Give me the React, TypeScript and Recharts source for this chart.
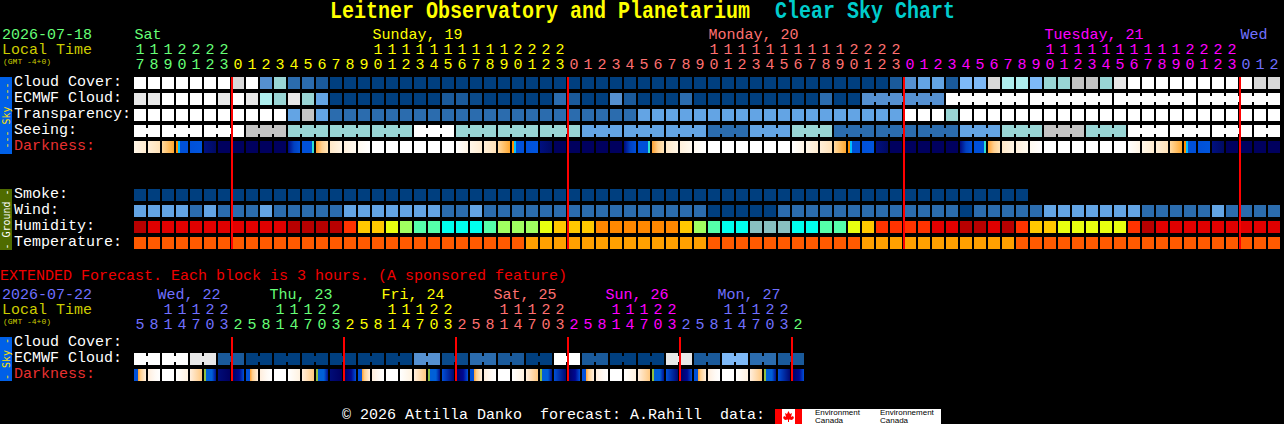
import React from "react";
import { ScatterChart, Scatter, XAxis, YAxis } from "recharts";

// ---------- values ----------
const hourUnits = [7,8,9,0,1,2,3, 0,1,2,3,4,5,6,7,8,9,0,1,2,3,4,5,6,7,8,9,0,1,2,3, 0,1,2,3,4,5,6,7,8,9,0,1,2,3,4,5,6,7,8,9,0,1,2,3, 0,1,2,3,4,5,6,7,8,9,0,1,2,3,4,5,6,7,8,9,0,1,2,3, 0,1,2];
const hourTens = ["1","1","1","2","2","2","2", "","","","","","","","","","","1","1","1","1","1","1","1","1","1","1","2","2","2","2", "","","","","","","","","","","1","1","1","1","1","1","1","1","1","1","2","2","2","2", "","","","","","","","","","","1","1","1","1","1","1","1","1","1","1","2","2","2","2", "","",""];
const hourDay = [0,0,0,0,0,0,0, 1,1,1,1,1,1,1,1,1,1,1,1,1,1,1,1,1,1,1,1,1,1,1,1, 2,2,2,2,2,2,2,2,2,2,2,2,2,2,2,2,2,2,2,2,2,2,2,2, 3,3,3,3,3,3,3,3,3,3,3,3,3,3,3,3,3,3,3,3,3,3,3,3, 4,4,4];
const dayNames = ["Sat","Sunday, 19","Monday, 20","Tuesday, 21","Wed"];
const dayCols = [0,17,41,65,79];
const dayColors = ["#66ff77","#ffff00","#ff7070","#ff00ff","#7070ff"];

const extUnits = [5,8,1,4,7,0,3, 2,5,8,1,4,7,0,3, 2,5,8,1,4,7,0,3, 2,5,8,1,4,7,0,3, 2,5,8,1,4,7,0,3, 2,5,8,1,4,7,0,3, 2];
const extTens = ["","","1","1","1","2","2", "","","","1","1","1","2","2", "","","","1","1","1","2","2", "","","","1","1","1","2","2", "","","","1","1","1","2","2", "","","","1","1","1","2","2", ""];
const extDay = [0,0,0,0,0,0,0, 1,1,1,1,1,1,1,1, 2,2,2,2,2,2,2,2, 3,3,3,3,3,3,3,3, 4,4,4,4,4,4,4,4, 5,5,5,5,5,5,5,5, 6];
const extDayNames = ["Wed, 22","Thu, 23","Fri, 24","Sat, 25","Sun, 26","Mon, 27"];
const extDayCols = [1.64,9.64,17.64,25.64,33.64,41.64];
const extDayColors = ["#7070ff","#66ff77","#ffff00","#ff7070","#ff00ff","#7070ff","#66ff77"];

const cloudCover = [12,12,12,12,12,12,12,10,12,4, 7,3,3,2,0,0,0,0,0,0, 0,0,0,0,0,0,0,0,0,0, 0,0,0,0,0,0,0,0,0,0, 0,0,0,0,0,0,0,0,0,0, 0,0,0,0,2,4,5,5,2,6, 6,10,8,8,6,7,7,9,9,7, 11,12,12,12,12,12,12,12,12,12, 10,10];
const ecmwfHourly = [11,11,12,12,12,12,11,12,11,8, 7,11,7,5,0,0,0,0,0,0, 0,0,2,2,1,0,0,0,0,0, 3,2,0,0,4,2,0,0,0,3, 0,0,0,0,0,0,0,0,0,3, 0,0];
const ecmwfSixHourly = [4,12,12,12,12];
const transparency = [12,12,12,12,12,12,12,12,12,12, 12,5,9,5,3,3,3,3,3,3, 3,3,3,3,3,3,3,3,3,3, 3,3,3,3,3,3,5,5,5,5, 5,5,5,5,5,5,5,5,5,5, 5,5,5,5,5,12,12,12,7,12, 12,12,12,12,12,12,12,12,12,12, 12,12,12,12,12,12,12,12,12,12, 12,12];
const seeingBlocks = [12,12,12,9,7,7,7,12,7,7,7,5,5,5,3,5,7,3,3,3,5,7,9,7,12,12,12,12];
const seeingSpans = [2,3,3,3,3,3,3,3,3,3,3,3,3,3,3,3,3,3,3,3,3,3,3,3,3,3,3,2];
const darkness = [0,1,2,3,4,5,6,6,6,6, 6,7,8,9,10,11,12,13,13,13, 13,13,13,14,0,1,2,3,4,5, 6,6,6,6,6,7,8,9,10,11, 12,13,13,13,13,13,13,14,0,1, 2,3,4,5,6,6,6,6,6,7, 8,9,10,11,12,13,13,13,13,13, 13,14,0,1,2,3,4,5,6,6, 6,6];
const smoke = [0,0,0,0,0,0,0,0,0,0, 0,0,0,0,0,0,0,0,0,0, 0,0,0,0,0,0,0,0,0,0, 0,0,0,0,0,0,0,0,0,0, 0,0,0,0,0,0,0,0,0,0, 0,0,0,0,0,0,0,0,0,0, 0,0,0,0];
const wind = [5,5,5,5,3,5,3,3,3,5, 3,3,3,3,3,5,5,5,5,5, 5,5,3,3,5,3,3,3,3,3, 3,3,3,3,3,3,3,3,3,3, 3,0,0,0,0,0,3,3,3,3, 3,3,3,3,3,3,3,3,3,0, 3,3,3,3,3,5,5,5,5,5, 5,5,3,3,3,3,3,5,3,3, 3,3];
const humidity = [0,1,1,1,1,1,1,1,1,1, 1,0,0,0,0,2,4,4,5,6, 7,7,8,8,8,7,6,6,6,5, 4,4,4,3,3,3,3,3,3,4, 6,7,8,8,9,9,9,8,8,7, 7,5,4,2,2,2,2,1,1,0, 0,1,0,2,4,4,5,5,5,5, 5,2,0,1,1,1,1,1,1,1, 1,1];
const temperature = [0,0,0,0,0,0,0,0,0,0, 0,0,0,0,0,0,0,0,0,0, 0,0,0,0,0,0,0,0,1,1, 1,1,1,1,1,1,1,1,1,1, 1,0,0,0,0,0,0,0,0,0, 0,0,1,1,1,1,1,1,1,1, 1,1,1,0,0,0,0,0,0,0, 0,0,0,0,0,0,0,0,0,0, 0,0];
const extEcmwf = [12,12,11,2,0,0,0,0,0,0,4,1,3,2,0,12,2,0,0,11,2,6,3,2];
const extDarkness = [0,1,2,3,4,5,6,7, 0,1,2,3,4,5,6,7, 0,1,2,3,4,5,8,7, 0,1,2,3,4,5,8,7, 0,1,2,3,4,5,8,7, 0,1,2,3,4,5,8,7];
const midnights = [7,31,55,79];
const extMidnights = [7,15,23,31,39,47];
const skyLabels = ["Cloud Cover:","ECMWF Cloud:","Transparency:","Seeing:"];
const groundLabels = ["Smoke:","Wind:","Humidity:","Temperature:"];

// ---------- styles ----------
const skyPalette = ["#003f7f","#0a4a8a","#1a5a9b","#2b6cae","#5590d0","#63a4e4","#7eb9f7","#99d5d5","#aeeeee","#c4c4c4","#d8d8d8","#e8e8e8","#ffffff"];
const humidityPalette = ["#b80000","#e00000","#ff3300","#ff8800","#ffc800","#e8ff10","#a0ff60","#55ffaa","#00ffee","#88c0c0"];
const tempPalette = ["#ff5a00","#ffa000"];
type Stop = [number, string];
const darkStops: Stop[][] = [
  [[0,"#fff6e8"],[1,"#ffecd0"]],
  [[0,"#ffefd8"],[1,"#ffe2b8"]],
  [[0,"#ffd9a0"],[1,"#ffa830"]],
  [[0,"#ff9000"],[.17,"#ff9000"],[.17,"#00bfff"],[.33,"#00bfff"],[.33,"#0050d8"],[1,"#0050d8"]],
  [[0,"#0050d8"],[1,"#0055dd"]],
  [[0,"#001080"],[1,"#000a62"]],
  [[0,"#00005e"],[1,"#00005e"]],
  [[0,"#000a80"],[.5,"#0040c0"],[1,"#0050d8"]],
  [[0,"#0050d8"],[.86,"#0050d8"],[.86,"#30e0d0"],[1,"#30e0d0"]],
  [[0,"#ffa030"],[.5,"#ffd090"],[1,"#ffe4b8"]],
  [[0,"#ffe8c8"],[1,"#fff5e5"]],
  [[0,"#fff0dc"],[1,"#fffaf0"]],
  [[0,"#fffaf0"],[1,"#ffffff"]],
  [[0,"#ffffff"],[1,"#ffffff"]],
  [[0,"#ffffff"],[1,"#fff5e5"]],
];
const extStops: Stop[][] = [
  [[0,"#0050d8"],[.3,"#0050d8"],[.33,"#ffa030"],[.55,"#ffd090"],[1,"#fff0e0"]],
  [[0,"#ffeedd"],[.6,"#fffaf5"],[1,"#ffffff"]],
  [[0,"#ffffff"],[1,"#ffffff"]],
  [[0,"#ffffff"],[1,"#fff2e0"]],
  [[0,"#ffeedd"],[1,"#ffc880"]],
  [[0,"#90c040"],[.16,"#90c040"],[.16,"#0060d8"],[.66,"#0060d8"],[1,"#001090"]],
  [[0,"#000c78"],[1,"#000060"]],
  [[0,"#000060"],[.6,"#000890"],[1,"#0050d8"]],
  [[0,"#0050d8"],[1,"#000870"]],
];

// ---------- layout: axis units are columns and rows ----------
const W = 1284, H = 424, PITCH = 14, CELL = 12;
const xDomain: [number, number] = [-140 / PITCH, (W - 140) / PITCH];
const rowOf = (px: number) => (px - 83) / 16;
const yDomain: [number, number] = [rowOf(0), rowOf(H)];
const MONO = "'Liberation Mono','DejaVu Sans Mono',monospace";

type Pt = { col: number; row: number; fill: string; span?: number; text?: string };
const hourly = (vals: number[], row: number, pal: string[], start = 0): Pt[] =>
  vals.map((v, i) => ({ col: start + i, row, fill: pal[v] }));
const blocks = (vals: number[], spans: number[] | number, row: number, pal: string[], start = 0): Pt[] => {
  let c = start;
  return vals.map((v, i) => {
    const s = typeof spans === "number" ? spans : spans[i];
    const p = { col: c, row, fill: pal[v], span: s };
    c += s;
    return p;
  });
};
const grads = (vals: number[], row: number, prefix: string): Pt[] =>
  vals.map((v, i) => ({ col: i, row, fill: `url(#${prefix}${v})` }));

const CellShape = (p: any) => {
  const d: Pt = p.payload;
  const cx = p.cx ?? p.x + p.width / 2;
  const cy = p.cy ?? p.y + p.height / 2;
  const span = d.span ?? 1;
  const left = cx - CELL / 2;
  const top = cy - CELL / 2;
  const parts = [];
  for (let i = 0; i < span; i++) {
    parts.push(<rect key={i} x={left + i * PITCH} y={top} width={CELL} height={CELL} fill={d.fill} />);
    if (i < span - 1)
      parts.push(<rect key={`c${i}`} x={left + i * PITCH + CELL} y={top + 3} width={PITCH - CELL} height={CELL - 6} fill={d.fill} />);
  }
  return <g>{parts}</g>;
};
const TextShape = (p: any) => {
  const d: Pt = p.payload;
  const cx = p.cx ?? p.x + p.width / 2;
  const cy = p.cy ?? p.y + p.height / 2;
  return (
    <text x={cx} y={cy} fill={d.fill} textAnchor="middle" fontFamily={MONO} fontSize={15}>
      {d.text}
    </text>
  );
};
const StartTextShape = (p: any) => {
  const d: Pt = p.payload;
  const cx = p.cx ?? p.x + p.width / 2;
  const cy = p.cy ?? p.y + p.height / 2;
  return (
    <text x={cx - CELL / 2 + 0.5} y={cy} fill={d.fill} fontFamily={MONO} fontSize={15}>
      {d.text}
    </text>
  );
};
const NoPoint = () => <g />;

const cellSeries: Pt[][] = [
  hourly(cloudCover, 0, skyPalette),
  hourly(ecmwfHourly, 1, skyPalette),
  blocks(ecmwfSixHourly, 6, 1, skyPalette, 52),
  hourly(transparency, 2, skyPalette),
  blocks(seeingBlocks, seeingSpans, 3, skyPalette),
  grads(darkness, 4, "dk"),
  hourly(smoke, 7, skyPalette),
  hourly(wind, 8, skyPalette),
  hourly(humidity, 9, humidityPalette),
  hourly(temperature, 10, tempPalette),
  blocks(extEcmwf, 2, rowOf(359), skyPalette),
  grads(extDarkness, rowOf(375), "ex"),
];

const textSeries: Pt[][] = [
  hourUnits.map((u, i) => ({ col: i, row: rowOf(69), fill: dayColors[hourDay[i]], text: String(u) })),
  hourTens.map((t, i) => ({ col: i, row: rowOf(54), fill: dayColors[hourDay[i]], text: t })),
  extUnits.map((u, i) => ({ col: i, row: rowOf(329), fill: extDayColors[extDay[i]], text: String(u) })),
  extTens.map((t, i) => ({ col: i, row: rowOf(314), fill: extDayColors[extDay[i]], text: t })),
];
const dayTitleSeries: Pt[][] = [
  dayNames.map((t, i) => ({ col: dayCols[i], row: rowOf(39), fill: dayColors[i], text: t })),
  extDayNames.map((t, i) => ({ col: extDayCols[i], row: rowOf(299), fill: extDayColors[i], text: t })),
];

const lineSeries: Pt[][] = [
  ...midnights.map((c) => [
    { col: c - CELL / 2 / PITCH, row: rowOf(77), fill: "" },
    { col: c - CELL / 2 / PITCH, row: rowOf(249), fill: "" },
  ]),
  ...extMidnights.map((c) => [
    { col: c - CELL / 2 / PITCH, row: rowOf(337), fill: "" },
    { col: c - CELL / 2 / PITCH, row: rowOf(381), fill: "" },
  ]),
];

const T = (props: any) => <text fontFamily={MONO} fontSize={15} style={{ whiteSpace: "pre" }} {...props} />;
const sideBar = (y: number, h: number, fill: string, color: string, text: string) => (
  <g>
    <rect x={0} y={y} width={12} height={h} fill={fill} />
    <text
      transform={`translate(9.5 ${y + h / 2}) rotate(-90)`}
      fill={color}
      textAnchor="middle"
      fontFamily="'DejaVu Sans Mono',monospace"
      fontSize={10}
    >
      {text}
    </text>
  </g>
);

export default function App() {
  return (
    <div style={{ position: "absolute", left: 0, top: 0, width: W, height: H, background: "#000", overflow: "hidden" }}>
      <ScatterChart width={W} height={H} margin={{ top: 0, right: 0, bottom: 0, left: 0 }} style={{ background: "#000" }}>
        <defs>
          {darkStops.map((st, i) => (
            <linearGradient key={i} id={`dk${i}`} x1="0" y1="0" x2="1" y2="0">
              {st.map(([o, c], j) => <stop key={j} offset={o} stopColor={c} />)}
            </linearGradient>
          ))}
          {extStops.map((st, i) => (
            <linearGradient key={i} id={`ex${i}`} x1="0" y1="0" x2="1" y2="0">
              {st.map(([o, c], j) => <stop key={j} offset={o} stopColor={c} />)}
            </linearGradient>
          ))}
        </defs>
        <XAxis type="number" dataKey="col" domain={xDomain} hide allowDataOverflow />
        <YAxis type="number" dataKey="row" domain={yDomain} reversed hide allowDataOverflow />

        {cellSeries.map((data, i) => (
          <Scatter key={`c${i}`} data={data} shape={CellShape} isAnimationActive={false} />
        ))}
        {textSeries.map((data, i) => (
          <Scatter key={`t${i}`} data={data} shape={TextShape} isAnimationActive={false} />
        ))}
        {dayTitleSeries.map((data, i) => (
          <Scatter key={`d${i}`} data={data} shape={StartTextShape} isAnimationActive={false} />
        ))}
        {lineSeries.map((data, i) => (
          <Scatter
            key={`l${i}`}
            data={data}
            shape={NoPoint}
            line={{ stroke: "#ff0000", strokeWidth: 2 }}
            isAnimationActive={false}
          />
        ))}

        <text transform="translate(330 18) scale(1 1.15)" fontFamily={MONO} fontSize={20} fontWeight="bold" fill="#ffff00">
          Leitner Observatory and Planetarium
        </text>
        <text transform="translate(775 18) scale(1 1.15)" fontFamily={MONO} fontSize={20} fontWeight="bold" fill="#00cccc">
          Clear Sky Chart
        </text>

        <T x={2} y={39} fill="#66ff77">2026-07-18</T>
        <T x={2} y={54} fill="#cccc00">Local Time</T>
        <text x={3} y={64} fill="#cccc00" fontFamily={MONO} fontSize={8}>(GMT -4+0)</text>

        {skyLabels.map((t, i) => <T key={t} x={14} y={86 + 16 * i} fill="#ffffff">{t}</T>)}
        <T x={14} y={150} fill="#e83030">Darkness:</T>
        {groundLabels.map((t, i) => <T key={t} x={14} y={198 + 16 * i} fill="#ffffff">{t}</T>)}

        {sideBar(77, 77, "#0060e8", "#ffe000", "--- Sky ---")}
        {sideBar(189, 61, "#4f6b00", "#ffffff", "- Ground -")}
        {sideBar(337, 44, "#0060e8", "#ffe000", "- Sky -")}

        <T x={0} y={280} fill="#f00000">EXTENDED Forecast. Each block is 3 hours. (A sponsored feature)</T>
        <T x={2} y={299} fill="#7070ff">2026-07-22</T>
        <T x={2} y={314} fill="#cccc00">Local Time</T>
        <text x={3} y={324} fill="#cccc00" fontFamily={MONO} fontSize={8}>(GMT -4+0)</text>
        <T x={14} y={346} fill="#ffffff">Cloud Cover:</T>
        <T x={14} y={362} fill="#ffffff">ECMWF Cloud:</T>
        <T x={14} y={378} fill="#e83030">Darkness:</T>

        <T x={342} y={419} fill="#ffffff">© 2026 Attilla Danko  forecast: A.Rahill  data:</T>
        <rect x={775} y={409} width={166} height={15} fill="#ffffff" />
        <rect x={775} y={409} width={7} height={15} fill="#ff0000" />
        <rect x={795} y={409} width={7} height={15} fill="#ff0000" />
        <polygon
          points="788.5,411 790,414 792,413 791,417 793,416 794,418 792,420 789,419.5 789,422 788,422 788,419.5 785,420 783,418 784,416 786,417 785,413 787,414"
          fill="#ff0000"
        />
        <text x={815} y={415} fontFamily="'Liberation Sans',sans-serif" fontSize={8} fill="#000">Environment</text>
        <text x={815} y={423} fontFamily="'Liberation Sans',sans-serif" fontSize={8} fill="#000">Canada</text>
        <text x={880} y={415} fontFamily="'Liberation Sans',sans-serif" fontSize={8} fill="#000">Environnement</text>
        <text x={880} y={423} fontFamily="'Liberation Sans',sans-serif" fontSize={8} fill="#000">Canada</text>
      </ScatterChart>
    </div>
  );
}
